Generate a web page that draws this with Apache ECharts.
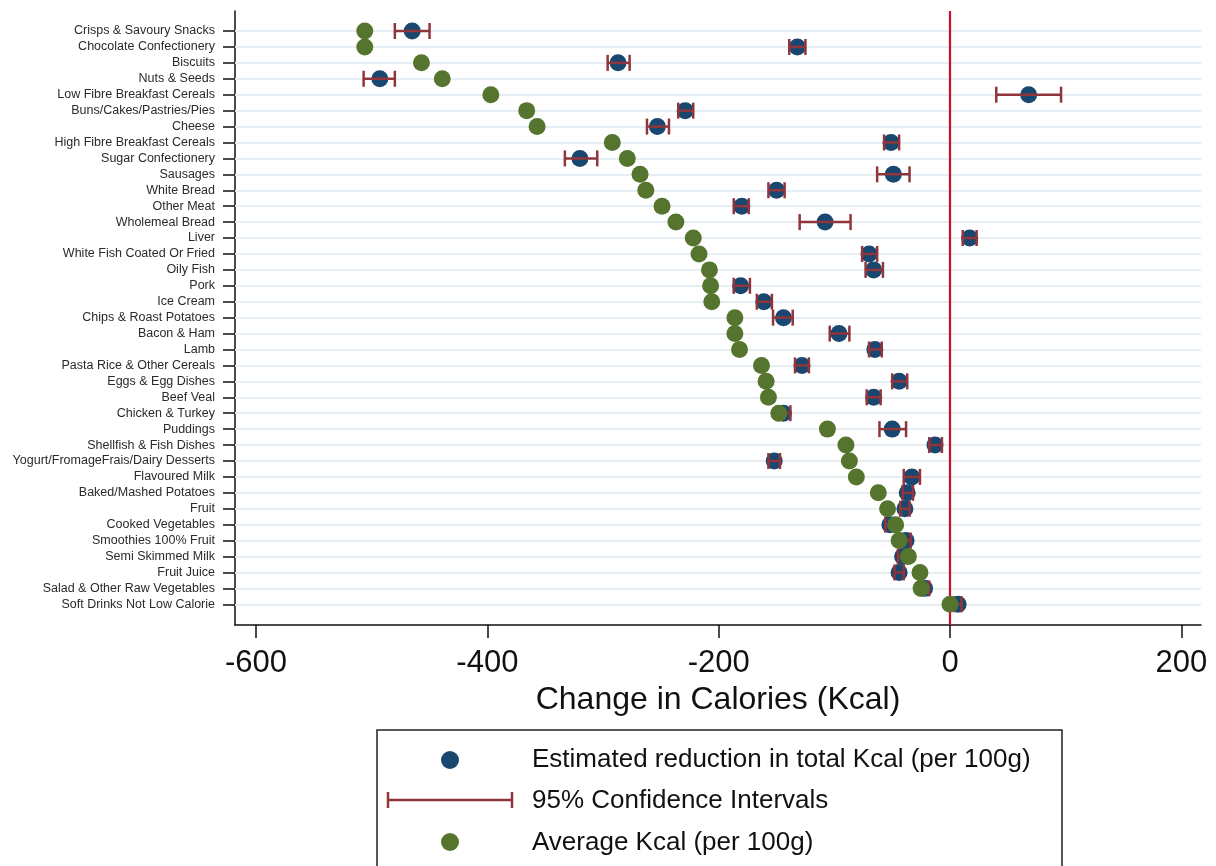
<!DOCTYPE html>
<html><head><meta charset="utf-8">
<script src="https://cdn.jsdelivr.net/npm/echarts@6/dist/echarts.min.js"></script>
<style>html,body{margin:0;padding:0;background:#fff}#c{width:1216px;height:866px}</style>
</head><body><div id="c"></div>
<script>
const categories = ["Crisps & Savoury Snacks","Chocolate Confectionery","Biscuits","Nuts & Seeds","Low Fibre Breakfast Cereals","Buns/Cakes/Pastries/Pies","Cheese","High Fibre Breakfast Cereals","Sugar Confectionery","Sausages","White Bread","Other Meat","Wholemeal Bread","Liver","White Fish Coated Or Fried","Oily Fish","Pork","Ice Cream","Chips & Roast Potatoes","Bacon & Ham","Lamb","Pasta Rice & Other Cereals","Eggs & Egg Dishes","Beef Veal","Chicken & Turkey","Puddings","Shellfish & Fish Dishes","Yogurt/FromageFrais/Dairy Desserts","Flavoured Milk","Baked/Mashed Potatoes","Fruit","Cooked Vegetables","Smoothies 100% Fruit","Semi Skimmed Milk","Fruit Juice","Salad & Other Raw Vegetables","Soft Drinks Not Low Calorie"];
const estimated = [-465,-132,-287,-493,68,-229,-253,-51,-320,-49,-150,-180,-108,17,-70,-66,-181,-161,-144,-96,-65,-128,-44,-66,-144,-50,-13,-152,-33,-37,-39,-52,-38,-41,-44,-22,7];
const ciLow = [-480,-139,-296,-507,40,-235,-262,-57,-333,-63,-157,-187,-130,11,-76,-73,-187,-167,-153,-104,-70,-134,-50,-72,-150,-61,-18,-157,-40,-41,-43,-56,-42,-45,-48,-26,4];
const ciHigh = [-450,-125,-277,-480,96,-222,-243,-44,-305,-35,-143,-174,-86,23,-63,-58,-173,-154,-136,-87,-59,-122,-37,-60,-138,-38,-7,-147,-26,-32,-35,-48,-34,-37,-40,-18,10];
const averageKcal = [-506,-506,-457,-439,-397,-366,-357,-292,-279,-268,-263,-249,-237,-222,-217,-208,-207,-206,-186,-186,-182,-163,-159,-157,-148,-106,-90,-87,-81,-62,-54,-47,-44,-36,-26,-25,0];
const xTicks = [-600,-400,-200,0,200];
const legendLabels = ["Estimated reduction in total Kcal (per 100g)","95% Confidence Intervals","Average Kcal (per 100g)"];

const BLUE='#1a476f', GREEN='#55752f', MAROON='#90353b', ZERO='#c8102e';
const rowIdx = categories.map((c,i)=>i);

const chart = echarts.init(document.getElementById('c'), null, {renderer:'canvas'});
chart.setOption({
  animation:false,
  backgroundColor:'#fff',
  grid:{left:235, right:15, top:11, height:614},
  xAxis:{type:'value', min:-618.2, max:217,
    name:'Change in Calories (Kcal)', nameLocation:'middle', nameGap:54,
    nameTextStyle:{fontFamily:'Liberation Sans', fontSize:32, color:'#111'},
    axisLine:{onZero:false, lineStyle:{color:'#111', width:1.5}},
    axisTick:{show:true, length:13, lineStyle:{color:'#111', width:1.5}, customValues:xTicks},
    axisLabel:{fontFamily:'Liberation Sans', fontSize:31, color:'#111', margin:23, customValues:xTicks},
    splitLine:{show:false}},
  yAxis:{type:'value', inverse:true, min:-1.256, max:37.3,
    axisLine:{show:true, onZero:false, lineStyle:{color:'#111', width:1.5}},
    axisTick:{show:true, length:12, lineStyle:{color:'#111', width:1.5}, customValues:rowIdx},
    axisLabel:{fontFamily:'Liberation Sans', fontSize:12.5, color:'#2a2a2a', margin:20, customValues:rowIdx,
      formatter:v=>categories[Math.round(v)]},
    splitLine:{show:false}},
  series:[
    {type:'scatter', name:'grid', data:[], silent:true, z:1,
      markLine:{silent:true, symbol:'none', label:{show:false}, z:1,
        lineStyle:{color:'#e7eef3', width:2, type:'solid'},
        data:rowIdx.map(i=>({yAxis:i}))}},
    {type:'scatter', name:'zero', data:[], silent:true, z:2,
      markLine:{silent:true, symbol:'none', label:{show:false}, z:2,
        lineStyle:{color:ZERO, width:2.2, type:'solid'}, data:[{xAxis:0}]}},
    {type:'scatter', name:legendLabels[0], symbolSize:17, z:3, itemStyle:{color:BLUE, opacity:1},
      data:estimated.map((v,i)=>[v,i])},
    {type:'custom', name:legendLabels[1], z:4,
      data:ciLow.map((v,i)=>[v,ciHigh[i],i]),
      encode:{x:[0,1], y:2},
      renderItem:(params,api)=>{
        const a=api.coord([api.value(0),api.value(2)]);
        const b=api.coord([api.value(1),api.value(2)]);
        const st={stroke:MAROON, lineWidth:2.5};
        const h=8;
        return {type:'group', children:[
          {type:'line', shape:{x1:a[0],y1:a[1],x2:b[0],y2:b[1]}, style:st},
          {type:'line', shape:{x1:a[0],y1:a[1]-h,x2:a[0],y2:a[1]+h}, style:st},
          {type:'line', shape:{x1:b[0],y1:b[1]-h,x2:b[0],y2:b[1]+h}, style:st}
        ]};
      }},
    {type:'scatter', name:legendLabels[2], symbolSize:17, z:5, itemStyle:{color:GREEN, opacity:1},
      data:averageKcal.map((v,i)=>[v,i])}
  ],
  graphic:[
    {type:'rect', shape:{x:377,y:730,width:685,height:150}, style:{fill:'#fff', stroke:'#222', lineWidth:1.5}},
    {type:'circle', shape:{cx:450,cy:760,r:9}, style:{fill:BLUE}},
    {type:'line', shape:{x1:388,y1:800,x2:512,y2:800}, style:{stroke:MAROON, lineWidth:2.5}},
    {type:'line', shape:{x1:388,y1:792,x2:388,y2:808}, style:{stroke:MAROON, lineWidth:2.5}},
    {type:'line', shape:{x1:512,y1:792,x2:512,y2:808}, style:{stroke:MAROON, lineWidth:2.5}},
    {type:'circle', shape:{cx:450,cy:842,r:9}, style:{fill:GREEN}},
    {type:'text', x:532, y:760, style:{text:legendLabels[0], fontFamily:'Liberation Sans', fontSize:26, fill:'#111', verticalAlign:'middle'}},
    {type:'text', x:532, y:801, style:{text:legendLabels[1], fontFamily:'Liberation Sans', fontSize:26, fill:'#111', verticalAlign:'middle'}},
    {type:'text', x:532, y:843, style:{text:legendLabels[2], fontFamily:'Liberation Sans', fontSize:26, fill:'#111', verticalAlign:'middle'}}
  ]
});
</script></body></html>
